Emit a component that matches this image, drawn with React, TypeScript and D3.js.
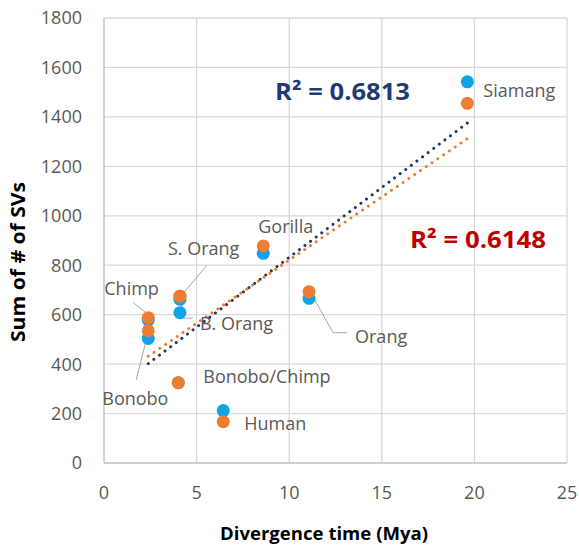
import React from "react";
import * as d3 from "d3";

const labels = ["Chimp", "Bonobo", "Bonobo/Chimp", "S. Orang", "B. Orang", "Gorilla", "Human", "Orang", "Siamang"];
const divergence = [2.39, 2.39, 4.01, 4.1, 4.1, 8.6, 6.44, 11.07, 19.62];
const svBlue = [578, 504, 325, 662, 608, 848, 212, 666, 1542];
const svOrange = [588, 535, 325, 675, 675, 878, 167, 693, 1455];
const xTicks = [0, 5, 10, 15, 20, 25];
const yTicks = [0, 200, 400, 600, 800, 1000, 1200, 1400, 1600, 1800];
const r2Blue = "R² = 0.6813";
const r2Orange = "R² = 0.6148";

// label layout (pixel offsets from the orange point, leader path offsets)
type Lay = { dx: number; dy: number; leader?: [number, number][] };
const labelLayout: Record<string, Lay> = {
  "Chimp": { dx: -44, dy: -23, leader: [[-15, -15], [-1, -4]] },
  "Bonobo": { dx: -46, dy: 74, leader: [[-12, 49], [0, 1]] },
  "Bonobo/Chimp": { dx: 25, dy: 0 },
  "S. Orang": { dx: -12, dy: -41, leader: [[27, -31], [1, 0]] },
  "B. Orang": { dx: 20, dy: 34, leader: [[2, 1], [2, 22], [13, 22]] },
  "Gorilla": { dx: -5, dy: -13 },
  "Human": { dx: 21, dy: 8 },
  "Orang": { dx: 46, dy: 51, leader: [[4, 5], [24, 41], [38, 41]] },
  "Siamang": { dx: 16, dy: -6 },
};

const W = 579, H = 546;
const x = d3.scaleLinear().domain([0, 25]).range([104, 567]);
const y = d3.scaleLinear().domain([0, 1800]).range([463, 18]);

const BLUE = "#0FA3E8";
const ORANGE = "#ED7D31";
const NAVY = "#203864";
const FONT = "'Open Sans', sans-serif";

function regression(xs: number[], ys: number[]) {
  const mx = d3.mean(xs)!, my = d3.mean(ys)!;
  const sxy = d3.sum(xs, (v, i) => (v - mx) * (ys[i] - my));
  const sxx = d3.sum(xs, (v) => (v - mx) * (v - mx));
  const slope = sxy / sxx;
  return { slope, intercept: my - slope * mx };
}

export default function App() {
  const [x0, x1] = d3.extent(divergence) as [number, number];
  const trends = [
    { ys: svBlue, color: NAVY },
    { ys: svOrange, color: ORANGE },
  ].map((t) => {
    const r = regression(divergence, t.ys);
    const line = d3.line<number>().x((d) => x(d)).y((d) => y(r.intercept + r.slope * d));
    return { d: line([x0, x1])!, color: t.color };
  });

  return (
    <svg width={W} height={H} style={{ position: "absolute", left: 0, top: 0, background: "#fff" }} fontFamily={FONT}>
      {/* grid */}
      {yTicks.slice(1).map((t) => (
        <line key={"gy" + t} x1={x(0)} x2={x(25)} y1={y(t)} y2={y(t)} stroke="#d9d9d9" strokeWidth={1.3} />
      ))}
      {xTicks.slice(1).map((t) => (
        <line key={"gx" + t} x1={x(t)} x2={x(t)} y1={y(0)} y2={y(1800)} stroke="#d9d9d9" strokeWidth={1.3} />
      ))}
      <line x1={x(0)} x2={x(25)} y1={y(0)} y2={y(0)} stroke="#bfbfbf" strokeWidth={1.3} />
      <line x1={x(0)} x2={x(0)} y1={y(0)} y2={y(1800)} stroke="#bfbfbf" strokeWidth={1.3} />

      {/* tick labels */}
      {yTicks.map((t) => (
        <text key={"ty" + t} x={82} y={y(t)} dy="0.36em" textAnchor="end" fontSize={18} fill="#595959">{t}</text>
      ))}
      {xTicks.map((t) => (
        <text key={"tx" + t} x={x(t)} y={499} textAnchor="middle" fontSize={18} fill="#595959">{t}</text>
      ))}

      {/* axis titles */}
      <text x={324} y={540} textAnchor="middle" fontSize={18} fontWeight="bold" fill="#000" textLength={208} lengthAdjust="spacingAndGlyphs">Divergence time (Mya)</text>
      <text transform="translate(25,262) rotate(-90)" textAnchor="middle" fontSize={19} fontWeight="bold" fill="#000" textLength={160} lengthAdjust="spacingAndGlyphs">Sum of # of SVs</text>

      {/* leader lines */}
      {labels.map((l, i) => {
        const lay = labelLayout[l];
        if (!lay.leader) return null;
        const px = x(divergence[i]), py = y(svOrange[i]);
        const pts = lay.leader.map(([a, b]) => [px + a, py + b] as [number, number]);
        return <path key={"ld" + l} d={d3.line()(pts)!} fill="none" stroke="#a6a6a6" strokeWidth={1} />;
      })}

      {/* markers */}
      {divergence.map((d, i) => (
        <circle key={"b" + i} cx={x(d)} cy={y(svBlue[i])} r={6.5} fill={BLUE} />
      ))}
      {divergence.map((d, i) => (
        <circle key={"o" + i} cx={x(d)} cy={y(svOrange[i])} r={6.5} fill={ORANGE} />
      ))}

      {/* trendlines */}
      {trends.map((t, i) => (
        <path key={"tr" + i} d={t.d} fill="none" stroke={t.color} strokeWidth={3} strokeLinecap="round" strokeDasharray="0.01 7" />
      ))}

      {/* data labels */}
      {labels.map((l, i) => {
        const lay = labelLayout[l];
        const px = x(divergence[i]), py = y(svOrange[i]);
        return (
          <text key={"lb" + l} x={px + lay.dx} y={py + lay.dy} fontSize={18} fill="#595959">{l}</text>
        );
      })}

      {/* R² labels */}
      <text x={275} y={100} fontSize={24} fontWeight="bold" fill="#1F3B73" textLength={135} lengthAdjust="spacingAndGlyphs">{r2Blue}</text>
      <text x={410} y={248} fontSize={24} fontWeight="bold" fill="#C00000" textLength={136} lengthAdjust="spacingAndGlyphs">{r2Orange}</text>
    </svg>
  );
}
